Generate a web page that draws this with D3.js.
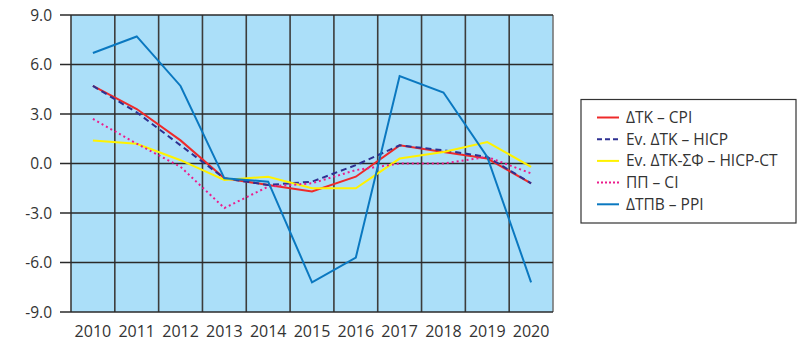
<!DOCTYPE html>
<html>
<head>
<meta charset="utf-8">
<script src="https://cdn.jsdelivr.net/npm/d3@7/dist/d3.min.js"></script>
<style>
  html, body { margin: 0; padding: 0; background: #ffffff; }
  svg { display: block; }
  text { font-family: "Open Sans", "DejaVu Sans", sans-serif; fill: #333333; }
</style>
</head>
<body>
<svg id="chart" width="797" height="342"></svg>
<script>
// Years on the horizontal axis
const years = ["2010", "2011", "2012", "2013", "2014", "2015", "2016", "2017", "2018", "2019", "2020"];

// Annual change (%) for each index
const cpi    = [4.7, 3.3, 1.4, -0.9, -1.3, -1.7, -0.8, 1.1, 0.7, 0.3, -1.2];
const hicp   = [4.7, 3.1, 1.1, -0.9, -1.3, -1.1, -0.1, 1.1, 0.8, 0.4, -1.2];
const hicpCt = [1.4, 1.2, 0.2, -1.0, -0.8, -1.5, -1.5, 0.3, 0.7, 1.3, -0.2];
const ci     = [2.7, 1.2, -0.2, -2.7, -1.4, -1.2, -0.4, 0.0, 0.0, 0.4, -0.6];
const ppi    = [6.7, 7.7, 4.7, -0.9, -1.1, -7.2, -5.7, 5.3, 4.3, 0.4, -7.2];

// Value axis ticks
const yTicks = [-9, -6, -3, 0, 3, 6, 9];

const seriesNames = ["ΔΤΚ – CPI", "Ev. ΔΤΚ – HICP", "Ev. ΔΤΚ-ΣΦ – HICP-CT", "ΠΠ – CI", "ΔΤΠΒ – PPI"];

const series = [
  { name: seriesNames[0], values: cpi,    color: "#ee2a2a", dash: null,  width: 2 },
  { name: seriesNames[1], values: hicp,   color: "#2e3192", dash: "6,4", width: 2 },
  { name: seriesNames[2], values: hicpCt, color: "#fff200", dash: null,  width: 2 },
  { name: seriesNames[3], values: ci,     color: "#ec1c8c", dash: "2,3", width: 2 },
  { name: seriesNames[4], values: ppi,    color: "#0a78c0", dash: null,  width: 2 }
];

const svg = d3.select("#chart");
const plot = { left: 71, right: 553, top: 15, bottom: 312 };

const x = d3.scaleBand().domain(years).range([plot.left, plot.right]).padding(0);
const y = d3.scaleLinear().domain([-9, 9]).range([plot.bottom, plot.top]);
const cx = d => x(d) + x.bandwidth() / 2;

// Plot background
svg.append("rect")
  .attr("x", plot.left).attr("y", plot.top)
  .attr("width", plot.right - plot.left).attr("height", plot.bottom - plot.top)
  .attr("fill", "#abdff9");

// Vertical grid at category boundaries
const bounds = years.map(d => x(d)).concat([plot.right]);
svg.append("g").selectAll("line").data(bounds).join("line")
  .attr("x1", d => d).attr("x2", d => d)
  .attr("y1", plot.top).attr("y2", plot.bottom)
  .attr("stroke", (d, i) => i === bounds.length - 1 ? "#777777" : "#3c3c3c")
  .attr("stroke-width", 1.6);

// Horizontal grid with outward tick stubs
svg.append("g").selectAll("line").data(yTicks).join("line")
  .attr("x1", plot.left - 11).attr("x2", plot.right)
  .attr("y1", d => y(d)).attr("y2", d => y(d))
  .attr("stroke", "#2a2a2a")
  .attr("stroke-width", 1.6);

// Y labels
svg.append("g").selectAll("text").data(yTicks).join("text")
  .attr("x", 52).attr("y", d => y(d))
  .attr("dy", "0.36em")
  .attr("text-anchor", "end")
  .style("font-size", "15.5px")
  .text(d => d.toFixed(1));

// X labels
svg.append("g").selectAll("text").data(years).join("text")
  .attr("x", d => cx(d)).attr("y", 337)
  .attr("text-anchor", "middle")
  .style("font-size", "16px")
  .text(d => d);

// Series lines
const line = d3.line()
  .x((v, i) => cx(years[i]))
  .y(v => y(v));

svg.append("g").selectAll("path").data(series).join("path")
  .attr("d", s => line(s.values))
  .attr("fill", "none")
  .attr("stroke", s => s.color)
  .attr("stroke-width", s => s.width)
  .attr("stroke-dasharray", s => s.dash)
  .attr("stroke-linejoin", "miter");

// Legend
const lg = svg.append("g");
lg.append("rect")
  .attr("x", 581).attr("y", 99.5)
  .attr("width", 215).attr("height", 123.5)
  .attr("fill", "#ffffff")
  .attr("stroke", "#333333")
  .attr("stroke-width", 1.2);

const items = lg.selectAll("g.item").data(series).join("g")
  .attr("class", "item")
  .attr("transform", (d, i) => `translate(0, ${117.5 + i * 21.7})`);

items.append("line")
  .attr("x1", 597).attr("x2", 619)
  .attr("y1", 0).attr("y2", 0)
  .attr("stroke", d => d.color)
  .attr("stroke-width", 2)
  .attr("stroke-dasharray", d => d.dash ? (d.dash === "2,3" ? "2,2" : "5,3") : null);

items.append("text")
  .attr("x", 626).attr("y", 0)
  .attr("dy", "0.35em")
  .style("font-size", "15.5px")
  .text(d => d.name);
</script>
</body>
</html>
